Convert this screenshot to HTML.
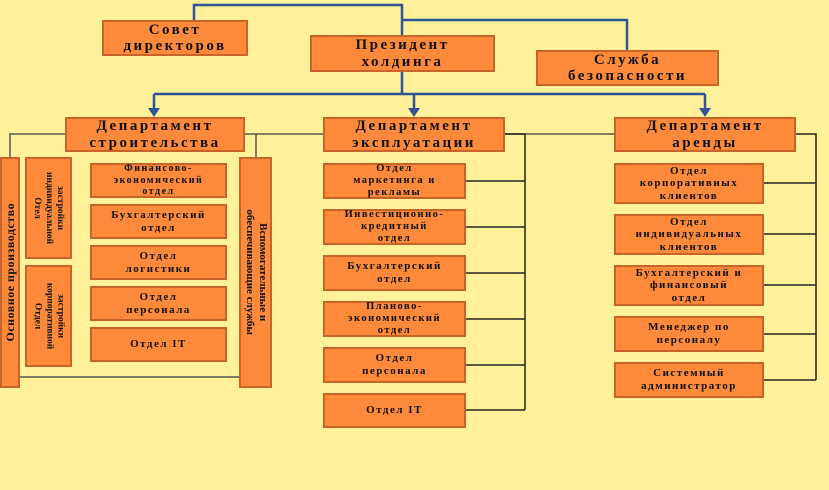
<!DOCTYPE html>
<html><head><meta charset="utf-8"><style>
body{margin:0;width:829px;height:490px;background:#FFF09A;position:relative;overflow:hidden;font-family:"Liberation Serif","DejaVu Serif",serif;font-weight:bold;color:#111}
.b{position:absolute;background:#FC8A3A;border:2px solid #C8642A;box-sizing:border-box;display:flex;align-items:center;justify-content:center;text-align:center;line-height:1.15;letter-spacing:1.5px;font-size:11px}
.L{font-size:15px;letter-spacing:2.5px;line-height:1.1}
.r{position:absolute;white-space:nowrap;text-align:center;line-height:1.2}
svg{position:absolute;left:0;top:0}
</style></head><body>
<svg width="829" height="490">
<g fill="none" stroke="#2F5597" stroke-width="2.5">
<path d="M194 20V5H402V35"/><path d="M402 20H627V50"/>
<path d="M402 72V94"/><path d="M154 94H705"/>
<path d="M154 94V112M414 94V112M705 94V112"/>
</g>
<g fill="#2F5597"><path d="M148 108L154 117L160 108Z"/><path d="M408 108L414 117L420 108Z"/><path d="M699 108L705 117L711 108Z"/></g>
<g fill="none" stroke="#555" stroke-width="1.5">
<path d="M65 134H10V157"/><path d="M245 134H256V157"/><path d="M256 134H323"/>
<path d="M19 377H239"/><path d="M505 134H614"/>
</g>
<g fill="none" stroke="#222" stroke-width="1.5">
<path d="M505 134H525V410"/>
<path d="M466 181H525M466 227H525M466 273H525M466 319H525M466 365H525M466 410H525"/>
<path d="M796 134H816V380"/>
<path d="M764 183H816M764 234H816M764 285H816M764 334H816M764 380H816"/>
</g>
</svg>
<div class="b L" style="left:102px;top:20px;width:146px;height:36px">Совет<br>директоров</div>
<div class="b L" style="left:310px;top:35px;width:185px;height:37px">Президент<br>холдинга</div>
<div class="b L" style="left:536px;top:50px;width:183px;height:36px">Служба<br>безопасности</div>
<div class="b L" style="left:65px;top:117px;width:180px;height:35px">Департамент<br>строительства</div>
<div class="b L" style="left:323px;top:117px;width:182px;height:35px">Департамент<br>эксплуатации</div>
<div class="b L" style="left:614px;top:117px;width:182px;height:35px">Департамент<br>аренды</div>

<div class="b" style="left:0;top:157px;width:20px;height:231px"><div class="r" style="transform:rotate(-90deg);font-size:12px;letter-spacing:0.5px">Основное производство</div></div>
<div class="b" style="left:25px;top:157px;width:47px;height:102px"><div class="r" style="transform:rotate(90deg);font-size:9.5px;letter-spacing:0">застройки<br>индивидуальной<br>Отел</div></div>
<div class="b" style="left:25px;top:265px;width:47px;height:102px"><div class="r" style="transform:rotate(90deg);font-size:9.5px;letter-spacing:0">застройки<br>корпоративной<br>Отдел</div></div>
<div class="b" style="left:239px;top:157px;width:33px;height:231px"><div class="r" style="transform:rotate(90deg);font-size:11px;letter-spacing:0">Вспомогательные и<br>обеспечивающие службы</div></div>

<div class="b" style="left:90px;top:163px;width:137px;height:35px;font-size:10px">Финансово-<br>экономический<br>отдел</div>
<div class="b" style="left:90px;top:204px;width:137px;height:35px">Бухгалтерский<br>отдел</div>
<div class="b" style="left:90px;top:245px;width:137px;height:35px">Отдел<br>логистики</div>
<div class="b" style="left:90px;top:286px;width:137px;height:35px">Отдел<br>персонала</div>
<div class="b" style="left:90px;top:327px;width:137px;height:35px">Отдел IT</div>

<div class="b" style="left:323px;top:163px;width:143px;height:36px;font-size:10.5px">Отдел<br>маркетинга и<br>рекламы</div>
<div class="b" style="left:323px;top:209px;width:143px;height:36px;font-size:10.5px">Инвестиционно-<br>кредитный<br>отдел</div>
<div class="b" style="left:323px;top:255px;width:143px;height:36px">Бухгалтерский<br>отдел</div>
<div class="b" style="left:323px;top:301px;width:143px;height:36px;font-size:10.5px">Планово-<br>экономический<br>отдел</div>
<div class="b" style="left:323px;top:347px;width:143px;height:36px">Отдел<br>персонала</div>
<div class="b" style="left:323px;top:393px;width:143px;height:35px">Отдел IT</div>

<div class="b" style="left:614px;top:163px;width:150px;height:41px">Отдел<br>корпоративных<br>клиентов</div>
<div class="b" style="left:614px;top:214px;width:150px;height:41px">Отдел<br>индивидуальных<br>клиентов</div>
<div class="b" style="left:614px;top:265px;width:150px;height:41px">Бухгалтерский и<br>финансовый<br>отдел</div>
<div class="b" style="left:614px;top:316px;width:150px;height:36px">Менеджер по<br>персоналу</div>
<div class="b" style="left:614px;top:362px;width:150px;height:36px">Системный<br>администратор</div>
</body></html>
